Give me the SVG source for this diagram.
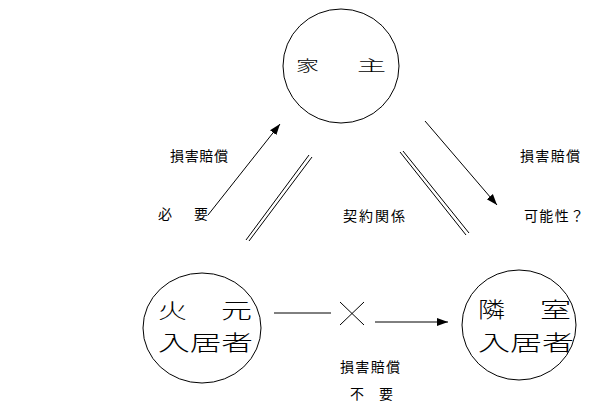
<svg xmlns="http://www.w3.org/2000/svg" width="602" height="408" viewBox="0 0 602 408">
<style>
.node{fill:#fff;stroke:#000;stroke-width:1}
.ln{stroke:#000;stroke-width:1;fill:none}
.big{font-family:"Noto Sans CJK JP","Noto Sans CJK SC",sans-serif;font-size:21px;font-weight:300;fill:#000}
.mid{font-family:"Noto Sans CJK JP","Noto Sans CJK SC",sans-serif;font-size:15px;font-weight:300;fill:#000}
.lbl{font-family:"Noto Sans CJK JP","Noto Sans CJK SC",sans-serif;font-size:14px;fill:#000}
</style>
<defs>
<marker id="ah" markerUnits="userSpaceOnUse" markerWidth="12" markerHeight="10" refX="11" refY="5" orient="auto">
<path d="M0,1 L11,5 L0,9 Z" fill="#000"/>
</marker>
</defs>
<rect width="602" height="408" fill="#fff"/>
<g id="connectors">
<line class="ln" x1="208" y1="215" x2="280" y2="124" marker-end="url(#ah)"/>
<line class="ln" x1="425" y1="121" x2="497" y2="205" marker-end="url(#ah)"/>
<line class="ln" x1="246" y1="240" x2="309" y2="155"/>
<line class="ln" x1="249" y1="241" x2="312" y2="157"/>
<line class="ln" x1="400" y1="152" x2="466" y2="235"/>
<line class="ln" x1="403" y1="151" x2="469" y2="233"/>
<line class="ln" x1="274" y1="313" x2="331" y2="313"/>
<line class="ln" x1="340" y1="302" x2="364" y2="325"/>
<line class="ln" x1="364" y1="302" x2="340" y2="325"/>
<line class="ln" x1="375" y1="322" x2="448" y2="322" marker-end="url(#ah)"/>
</g>
<g id="landlord">
<ellipse class="node" cx="341" cy="66" rx="58" ry="57"/>
<text class="mid" x="296" y="71" textLength="23" lengthAdjust="spacingAndGlyphs">家</text>
<text class="mid" x="357" y="71" textLength="29" lengthAdjust="spacingAndGlyphs">主</text>
</g>
<g id="origin">
<ellipse class="node" cx="202" cy="328" rx="59" ry="55"/>
<text class="big" x="158" y="318" textLength="29" lengthAdjust="spacingAndGlyphs">火</text>
<text class="big" x="221" y="318" textLength="31" lengthAdjust="spacingAndGlyphs">元</text>
<text class="big" x="158" y="350" textLength="95" lengthAdjust="spacingAndGlyphs">入居者</text>
</g>
<g id="neighbor">
<ellipse class="node" cx="519" cy="325" rx="57" ry="55"/>
<text class="big" x="478" y="317" textLength="27" lengthAdjust="spacingAndGlyphs">隣</text>
<text class="big" x="540" y="317" textLength="31" lengthAdjust="spacingAndGlyphs">室</text>
<text class="big" x="478" y="350" textLength="96" lengthAdjust="spacingAndGlyphs">入居者</text>
</g>
<g id="labels">
<text class="lbl" x="170" y="161" textLength="58">損害賠償</text>
<text class="lbl" x="158" y="219" textLength="50">必　要</text>
<text class="lbl" x="343" y="221" textLength="62">契約関係</text>
<text class="lbl" x="520" y="161" textLength="60">損害賠償</text>
<text class="lbl" x="524" y="221" textLength="60">可能性？</text>
<text class="lbl" x="340" y="372" textLength="60">損害賠償</text>
<text class="lbl" x="350" y="399" textLength="43">不　要</text>
</g>
</svg>
